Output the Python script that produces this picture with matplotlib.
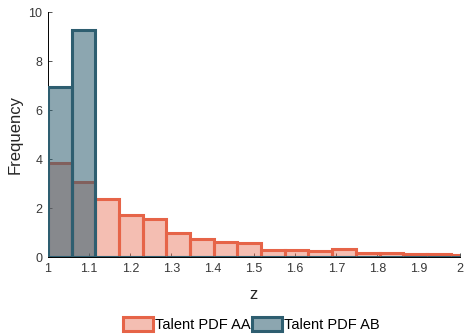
import matplotlib
matplotlib.use("Agg")
import matplotlib.pyplot as plt
import numpy as np

plt.rcParams['font.family'] = ['Liberation Sans', 'DejaVu Sans']

bin_start = 1.0
bin_width = 0.0575
aa_heights = [3.85, 3.05, 2.37, 1.71, 1.54, 0.97, 0.72, 0.63, 0.56, 0.29, 0.30,
              0.24, 0.31, 0.17, 0.15, 0.12, 0.11, 0.10]
ab_heights = [6.95, 9.27, 0, 0, 0, 0, 0, 0, 0, 0, 0, 0, 0, 0, 0, 0, 0, 0]
series_labels = ['Talent PDF AA', 'Talent PDF AB']
xticks = [1, 1.1, 1.2, 1.3, 1.4, 1.5, 1.6, 1.7, 1.8, 1.9, 2]
xtick_labels = ['1', '1.1', '1.2', '1.3', '1.4', '1.5', '1.6', '1.7', '1.8', '1.9', '2']
yticks = [0, 2, 4, 6, 8, 10]

aa_edge = (230/255, 100/255, 72/255)
ab_edge = (46/255, 94/255, 112/255)
aa_face = aa_edge + (0.42,)
ab_face = ab_edge + (0.55,)

fig = plt.figure(figsize=(4.65, 3.36), dpi=100)
ax = fig.add_axes([0.103, 0.235, 0.886, 0.729])

left_aa = bin_start + bin_width * np.arange(len(aa_heights))
left_ab = bin_start + bin_width * np.arange(len(ab_heights))
ax.bar(left_aa, aa_heights, width=bin_width, align='edge', facecolor=aa_face,
       edgecolor=aa_edge, linewidth=2.2, label=series_labels[0], zorder=2)
ax.bar(left_ab, ab_heights, width=bin_width, align='edge', facecolor=ab_face,
       edgecolor=ab_edge, linewidth=2.2, label=series_labels[1], zorder=3)

ax.set_xlim(1, 2)
ax.set_ylim(0, 10)
ax.set_xticks(xticks)
ax.set_xticklabels(xtick_labels)
ax.set_yticks(yticks)
ax.tick_params(direction='in', length=3, width=0.6, labelsize=9, colors='#383838',
               pad=4)
for s in ['top', 'right']:
    ax.spines[s].set_visible(False)
ax.spines['left'].set_linewidth(0.7)
ax.spines['bottom'].set_linewidth(0.7)
ax.set_xlabel('z', fontsize=12, color='#262626', labelpad=9)
ax.set_ylabel('Frequency', fontsize=12, color='#262626', labelpad=4)

leg = fig.legend(loc='lower center', bbox_to_anchor=(0.54, -0.015), ncol=2,
                 frameon=False, fontsize=10.5, handlelength=2.05, handleheight=1.1,
                 handletextpad=0.15, columnspacing=0.1, borderaxespad=0.2)

fig.savefig('out.png', dpi=100)
